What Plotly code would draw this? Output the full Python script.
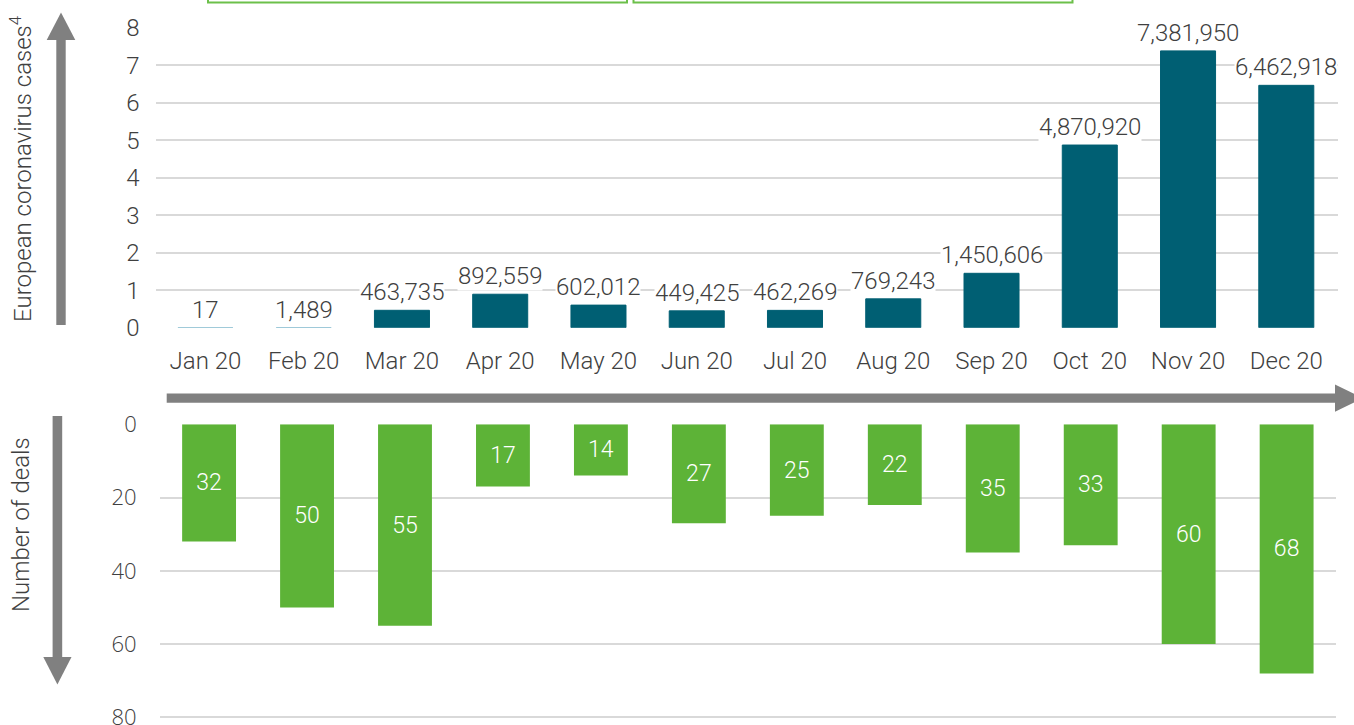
import plotly.graph_objects as go

# ---------------- data ----------------
months = ["Jan 20", "Feb 20", "Mar 20", "Apr 20", "May 20", "Jun 20",
          "Jul 20", "Aug 20", "Sep 20", "Oct\u00a0\u00a020", "Nov 20", "Dec 20"]
cases = [17, 1489, 463735, 892559, 602012, 449425,
         462269, 769243, 1450606, 4870920, 7381950, 6462918]
deals = [32, 50, 55, 17, 14, 27, 25, 22, 35, 33, 60, 68]
cases_ticks = [0, 1, 2, 3, 4, 5, 6, 7, 8]
deals_ticks = [0, 20, 40, 60, 80]

# ---------------- styling ----------------
W, H = 1354, 725
TEAL = "#005F73"
GREEN = "#5DB337"
TXT = "#404040"
GRID = "#D9D9D9"
ARROW = "#808080"
FONT = "Roboto"


def px(x):
    return x / W


def py(y):
    return 1 - y / H


cases_m = [c / 1e6 for c in cases]
case_labels = [f"{c:,}" for c in cases]
line_cols = ["#8FC1D3" if c < 100000 else TEAL for c in cases]

fig = go.Figure()

fig.add_trace(go.Bar(
    x=months, y=cases_m, xaxis="x", yaxis="y",
    marker=dict(color=TEAL, line=dict(color=line_cols, width=1)),
    width=0.56, hoverinfo="skip", showlegend=False,
))

fig.add_trace(go.Bar(
    x=months, y=deals, xaxis="x2", yaxis="y2",
    marker=dict(color=GREEN, line=dict(width=0)),
    width=0.55,
    text=[str(d) for d in deals], textposition="inside",
    insidetextanchor="middle",
    textfont=dict(family=FONT, size=23, color="white", weight=300),
    hoverinfo="skip", showlegend=False,
))

# data labels on top chart (white background hides gridlines)
for m, v, lab in zip(months, cases_m, case_labels):
    fig.add_annotation(
        x=m, y=v, xref="x", yref="y", text=lab,
        showarrow=False, yanchor="bottom", yshift=3,
        bgcolor="white", borderpad=0,
        font=dict(family=FONT, size=24, color=TXT, weight=300),
    )

# axis titles
fig.add_annotation(
    x=px(21), y=py(169), xref="paper", yref="paper",
    text="European coronavirus cases<sup>4</sup>", textangle=-90,
    showarrow=False, xanchor="center", yanchor="middle",
    font=dict(family=FONT, size=24, color=TXT, weight=300),
)
fig.add_annotation(
    x=px(21), y=py(525), xref="paper", yref="paper",
    text="Number of deals", textangle=-90,
    showarrow=False, xanchor="center", yanchor="middle",
    font=dict(family=FONT, size=24, color=TXT, weight=300),
)

shapes = []
# green outlined boxes at the top (cut off)
for x0, x1 in [(208, 627), (633.5, 1072.5)]:
    shapes.append(dict(type="rect", xref="paper", yref="paper",
                       x0=px(x0), x1=px(x1), y0=py(2.5), y1=py(-30),
                       line=dict(color="#6CC04A", width=2),
                       fillcolor="rgba(0,0,0,0)"))


def rect(x0, y0, x1, y1):
    return dict(type="rect", xref="paper", yref="paper",
                x0=px(x0), x1=px(x1), y0=py(y1), y1=py(y0),
                line=dict(width=0), fillcolor=ARROW, layer="above")


def tri(pts):
    path = "M " + " L ".join(f"{px(a)},{py(b)}" for a, b in pts) + " Z"
    return dict(type="path", xref="paper", yref="paper", path=path,
                line=dict(width=0), fillcolor=ARROW, layer="above")


# up arrow
shapes.append(rect(56.3, 39, 65.7, 325))
shapes.append(tri([(46.7, 40), (75.3, 40), (61, 12.5)]))
# down arrow
shapes.append(rect(52.6, 416, 62.2, 658))
shapes.append(tri([(43.3, 657), (71.5, 657), (57.4, 684.5)]))
# horizontal arrow
shapes.append(rect(166.7, 393.4, 1336, 402.8))
shapes.append(tri([(1335, 384.5), (1335, 411.7), (1363, 398)]))

fig.update_layout(
    width=W, height=H, autosize=False,
    margin=dict(l=0, r=0, t=0, b=0, pad=0, autoexpand=False),
    paper_bgcolor="white", plot_bgcolor="white",
    shapes=shapes,
    xaxis=dict(
        domain=[px(156.3), px(1338.3)], anchor="y", automargin=False,
        type="category", categoryorder="array", categoryarray=months,
        showgrid=False, zeroline=False, showline=False,
        ticks="outside", ticklen=11, tickcolor="rgba(0,0,0,0)",
        tickfont=dict(family=FONT, size=24, color=TXT, weight=300),
    ),
    yaxis=dict(
        domain=[py(327.7), py(27.7)], anchor="x", automargin=False,
        range=[0, 8], tickvals=cases_ticks, ticklabeloverflow="allow",
        showgrid=True, gridcolor=GRID, gridwidth=1.5,
        zeroline=False, showline=False,
        ticks="outside", ticklen=11, tickcolor="rgba(0,0,0,0)",
        tickfont=dict(family=FONT, size=24, color=TXT, weight=300),
    ),
    xaxis2=dict(
        domain=[px(160.1), px(1335.6)], anchor="y2", automargin=False,
        type="category", categoryorder="array", categoryarray=months,
        showgrid=False, zeroline=False, showline=False,
        showticklabels=False,
    ),
    yaxis2=dict(
        domain=[py(721.0), py(424.3)], anchor="x2", automargin=False,
        range=[81, 0], tickvals=deals_ticks, ticklabeloverflow="allow",
        showgrid=True, gridcolor=GRID, gridwidth=1.5,
        zeroline=False, showline=False,
        ticks="outside", ticklen=18, tickcolor="rgba(0,0,0,0)",
        tickfont=dict(family="Open Sans", size=22, color=TXT, weight=300),
    ),
)

fig.write_html(
    "out.html",
    config={"displayModeBar": False},
    post_script="document.body.style.margin='0';document.body.style.overflow='hidden';",
)
